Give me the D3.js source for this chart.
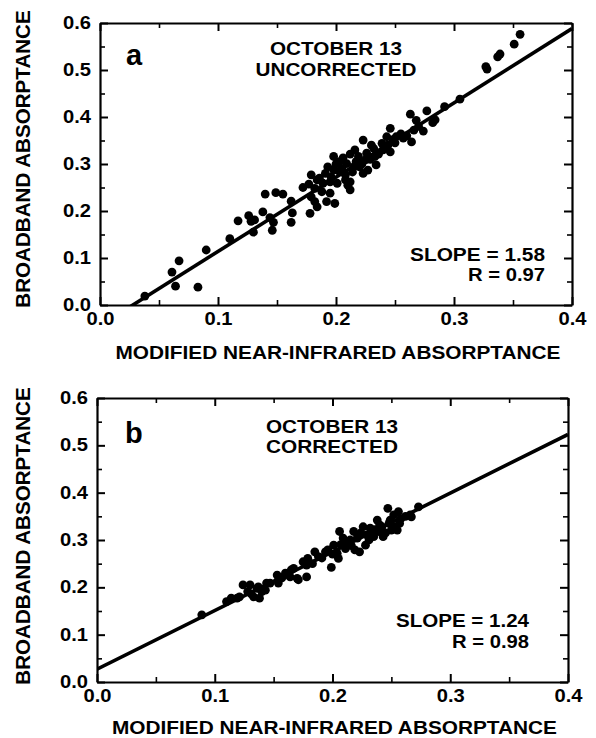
<!DOCTYPE html>
<html>
<head>
<meta charset="utf-8">
<script src="https://cdn.jsdelivr.net/npm/d3@7"></script>
<style>
  body { margin: 0; background: #fff; }
  svg text { font-family: "Liberation Sans", Arial, Helvetica, sans-serif; font-weight: bold; fill: #000; }
</style>
</head>
<body>
<svg id="chart" width="596" height="738"></svg>
<script>
// --- data ---
const xTicks = [0, 0.1, 0.2, 0.3, 0.4];
const xMinor = [0.05, 0.15, 0.25, 0.35];
const yTicks = [0, 0.1, 0.2, 0.3, 0.4, 0.5, 0.6];
const yMinor = [0.05, 0.15, 0.25, 0.35, 0.45, 0.55];

const panelLetters = ["a", "b"];
const dateLabels = ["OCTOBER 13", "OCTOBER 13"];
const caseLabels = ["UNCORRECTED", "CORRECTED"];
const slopeLabels = ["SLOPE = 1.58", "SLOPE = 1.24"];
const rLabels = ["R = 0.97", "R = 0.98"];
const fitSlopes = [1.58, 1.24];
const fitIntercepts = [-0.044, 0.027];
const xTitle = "MODIFIED NEAR-INFRARED ABSORPTANCE";
const yTitle = "BROADBAND ABSORPTANCE";

// panel a: uncorrected
const pointsA = [
  [0.038, 0.019], [0.061, 0.070], [0.064, 0.040], [0.067, 0.094], [0.083, 0.038],
  [0.090, 0.117], [0.110, 0.141], [0.117, 0.179], [0.126, 0.190], [0.128, 0.178],
  [0.130, 0.155], [0.131, 0.181], [0.138, 0.198], [0.140, 0.236], [0.144, 0.186],
  [0.146, 0.159], [0.147, 0.176], [0.149, 0.239], [0.155, 0.236], [0.162, 0.221],
  [0.163, 0.196], [0.162, 0.176], [0.172, 0.250], [0.177, 0.257], [0.179, 0.277],
  [0.178, 0.195], [0.179, 0.230], [0.182, 0.220], [0.182, 0.248], [0.184, 0.209],
  [0.184, 0.266], [0.186, 0.270], [0.188, 0.241], [0.189, 0.259], [0.191, 0.280],
  [0.192, 0.220], [0.193, 0.294], [0.195, 0.238], [0.195, 0.262], [0.196, 0.272],
  [0.198, 0.287], [0.198, 0.316], [0.199, 0.216], [0.200, 0.300], [0.201, 0.259],
  [0.203, 0.284], [0.203, 0.305], [0.205, 0.290], [0.206, 0.313], [0.208, 0.266],
  [0.208, 0.277], [0.209, 0.301], [0.210, 0.255], [0.212, 0.245], [0.212, 0.262],
  [0.212, 0.321], [0.214, 0.283], [0.215, 0.294], [0.216, 0.330], [0.217, 0.305],
  [0.219, 0.316], [0.220, 0.294], [0.222, 0.300], [0.223, 0.280], [0.223, 0.351],
  [0.225, 0.309], [0.226, 0.323], [0.227, 0.287], [0.229, 0.310], [0.230, 0.340],
  [0.232, 0.333], [0.233, 0.316], [0.234, 0.298], [0.236, 0.321], [0.239, 0.344],
  [0.240, 0.330], [0.243, 0.358], [0.244, 0.340], [0.246, 0.326], [0.246, 0.376],
  [0.248, 0.352], [0.250, 0.345], [0.251, 0.358], [0.255, 0.364], [0.257, 0.355],
  [0.260, 0.360], [0.263, 0.406], [0.264, 0.347], [0.266, 0.372], [0.268, 0.393],
  [0.270, 0.380], [0.274, 0.370], [0.277, 0.413], [0.282, 0.388], [0.284, 0.394],
  [0.292, 0.422], [0.305, 0.438], [0.327, 0.507], [0.328, 0.502], [0.337, 0.528],
  [0.339, 0.534], [0.351, 0.555], [0.356, 0.576]
];

// panel b: corrected
const pointsB = [
  [0.089, 0.142], [0.110, 0.170], [0.114, 0.177], [0.119, 0.177], [0.121, 0.180],
  [0.124, 0.205], [0.128, 0.191], [0.130, 0.205], [0.131, 0.186], [0.133, 0.180],
  [0.136, 0.198], [0.137, 0.201], [0.138, 0.177], [0.140, 0.191], [0.143, 0.194],
  [0.144, 0.209], [0.147, 0.209], [0.153, 0.226], [0.154, 0.209], [0.157, 0.220],
  [0.160, 0.230], [0.164, 0.222], [0.165, 0.237], [0.167, 0.240], [0.170, 0.219],
  [0.171, 0.216], [0.175, 0.254], [0.178, 0.222], [0.178, 0.247], [0.179, 0.261],
  [0.183, 0.250], [0.185, 0.275], [0.188, 0.265], [0.191, 0.262], [0.194, 0.275],
  [0.196, 0.279], [0.199, 0.242], [0.200, 0.270], [0.201, 0.289], [0.204, 0.272],
  [0.205, 0.261], [0.206, 0.318], [0.207, 0.290], [0.209, 0.304], [0.211, 0.282],
  [0.212, 0.293], [0.215, 0.300], [0.216, 0.288], [0.218, 0.318], [0.219, 0.279],
  [0.221, 0.304], [0.223, 0.275], [0.224, 0.315], [0.226, 0.328], [0.228, 0.289],
  [0.229, 0.311], [0.231, 0.300], [0.232, 0.325], [0.235, 0.307], [0.236, 0.322],
  [0.238, 0.342], [0.239, 0.318], [0.240, 0.332], [0.242, 0.328], [0.243, 0.307],
  [0.245, 0.315], [0.247, 0.367], [0.248, 0.335], [0.249, 0.342], [0.250, 0.321],
  [0.252, 0.353], [0.253, 0.328], [0.255, 0.321], [0.256, 0.360], [0.257, 0.335],
  [0.258, 0.345], [0.262, 0.350], [0.266, 0.353], [0.267, 0.349], [0.273, 0.370]
];

const panelPoints = [pointsA, pointsB];

// --- layout ---
const svg = d3.select("#chart");
const boxes = [
  { l: 100, t: 23, r: 572, b: 305 },
  { l: 97, t: 398, r: 568, b: 682 }
];
const letterPos = [[126, 65], [125, 443]];
const noteCenter = [336, 332];
const noteBase = [[55, 76], [433, 453]];
const noteWidth = [[132, 161], [132, 132]];
const statRight = [545, 529];
const statBase = [[261, 281], [627, 648]];
const statWidth = [[135, 77], [133, 77]];
const xTitleBase = [359, 733.5];
const yTitleMid = [159, 536];

// stretch a text to a given width, like the wide type of the original
function fit(sel, w) {
  sel.attr("textLength", w).attr("lengthAdjust", "spacingAndGlyphs");
}

function styleAxis(sel, width) {
  sel.attr("font-size", null).attr("font-family", null);
  sel.select(".domain").attr("stroke", "#000").attr("stroke-width", 2.2);
  sel.selectAll(".tick line").attr("stroke", "#000").attr("stroke-width", width);
  sel.selectAll("text").style("font-size", "17.5px").call(fit, 28);
}

function drawPanel(i) {
  const box = boxes[i];
  const x = d3.scaleLinear().domain([0, 0.4]).range([box.l, box.r]);
  const y = d3.scaleLinear().domain([0, 0.6]).range([box.b, box.t]);
  const g = svg.append("g");

  g.append("clipPath").attr("id", "clip" + i)
    .append("rect")
    .attr("x", box.l).attr("y", box.t)
    .attr("width", box.r - box.l).attr("height", box.b - box.t);

  // minor ticks
  const minorAxes = [
    [d3.axisBottom(x).tickValues(xMinor), `translate(0,${box.b})`],
    [d3.axisTop(x).tickValues(xMinor), `translate(0,${box.t})`],
    [d3.axisLeft(y).tickValues(yMinor), `translate(${box.l},0)`],
    [d3.axisRight(y).tickValues(yMinor), `translate(${box.r},0)`]
  ];
  minorAxes.forEach(([ax, tr]) => {
    const a = g.append("g").attr("transform", tr)
      .call(ax.tickSize(-5).tickSizeOuter(0).tickFormat(""));
    styleAxis(a, 1.6);
    a.select(".domain").remove();
  });

  // major axes
  const bottom = g.append("g").attr("transform", `translate(0,${box.b})`)
    .call(d3.axisBottom(x).tickValues(xTicks).tickSize(-8).tickSizeOuter(0)
      .tickPadding(8).tickFormat(d3.format(".1f")));
  styleAxis(bottom, 2);

  const left = g.append("g").attr("transform", `translate(${box.l},0)`)
    .call(d3.axisLeft(y).tickValues(yTicks).tickSize(-8).tickSizeOuter(0)
      .tickPadding(9).tickFormat(d3.format(".1f")));
  styleAxis(left, 2);

  const top = g.append("g").attr("transform", `translate(0,${box.t})`)
    .call(d3.axisTop(x).tickValues(xTicks).tickSize(-8).tickSizeOuter(0).tickFormat(""));
  styleAxis(top, 2);

  const right = g.append("g").attr("transform", `translate(${box.r},0)`)
    .call(d3.axisRight(y).tickValues(yTicks).tickSize(-8).tickSizeOuter(0).tickFormat(""));
  styleAxis(right, 2);

  // fitted line
  const xd = x.domain();
  g.append("line")
    .attr("clip-path", `url(#clip${i})`)
    .attr("x1", x(xd[0])).attr("y1", y(fitSlopes[i] * xd[0] + fitIntercepts[i]))
    .attr("x2", x(xd[1])).attr("y2", y(fitSlopes[i] * xd[1] + fitIntercepts[i]))
    .attr("stroke", "#000").attr("stroke-width", 3.6);

  // points
  g.append("g").selectAll("circle")
    .data(panelPoints[i])
    .enter().append("circle")
    .attr("cx", d => x(d[0]))
    .attr("cy", d => y(d[1]))
    .attr("r", 4.4)
    .attr("fill", "#000");

  // annotations
  g.append("text").attr("x", letterPos[i][0]).attr("y", letterPos[i][1])
    .style("font-size", "29px").text(panelLetters[i]);

  [dateLabels[i], caseLabels[i]].forEach((t, k) => {
    g.append("text").attr("x", noteCenter[i]).attr("y", noteBase[i][k])
      .attr("text-anchor", "middle").style("font-size", "17.5px")
      .call(fit, noteWidth[i][k]).text(t);
  });

  [slopeLabels[i], rLabels[i]].forEach((t, k) => {
    g.append("text").attr("x", statRight[i]).attr("y", statBase[i][k])
      .attr("text-anchor", "end").style("font-size", "17.5px")
      .call(fit, statWidth[i][k]).text(t);
  });

  // axis titles
  g.append("text")
    .attr("x", (box.l + box.r) / 2 + 2).attr("y", xTitleBase[i])
    .attr("text-anchor", "middle").style("font-size", "18.5px")
    .call(fit, 445).text(xTitle);

  g.append("text")
    .attr("transform", `translate(30,${yTitleMid[i]}) rotate(-90)`)
    .attr("text-anchor", "middle").style("font-size", "20.6px")
    .text(yTitle);
}

drawPanel(0);
drawPanel(1);
</script>
</body>
</html>
